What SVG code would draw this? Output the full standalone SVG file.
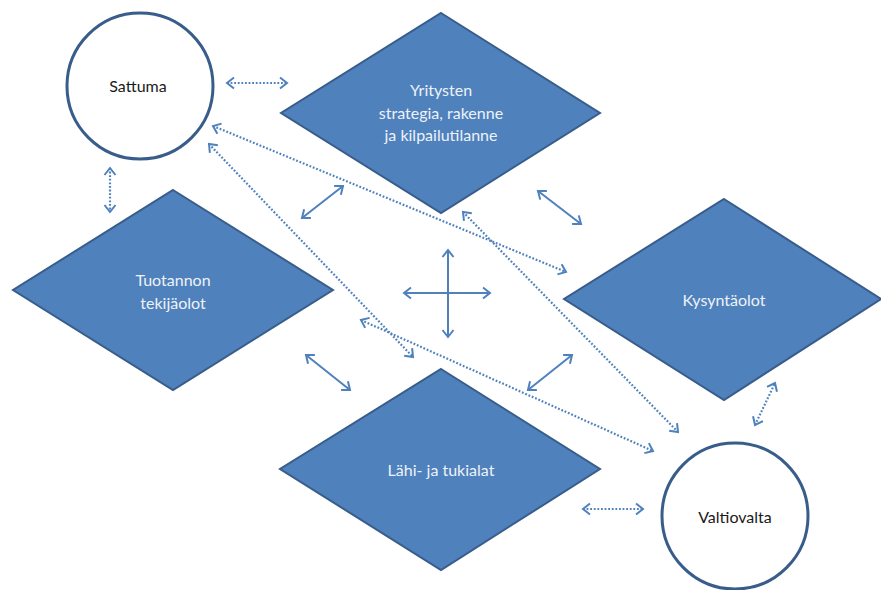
<svg xmlns="http://www.w3.org/2000/svg" width="881" height="590" viewBox="0 0 881 590">
<style>
.dia{fill:#4f81bd;stroke:#385d8a;stroke-width:2}
.circ{fill:#fff;stroke:#385d8a;stroke-width:3}
.lt{font-family:Lato,"Open Sans",sans-serif;font-size:16px;fill:#eef2f8;text-anchor:middle}
.dk{font-family:Lato,"Open Sans",sans-serif;font-size:16px;fill:#1a1a1a;text-anchor:middle}
.sol{stroke:#4f81bd;stroke-width:2;fill:none;marker-start:url(#ah);marker-end:url(#ah)}
.dot{stroke:#4f81bd;stroke-width:2.2;fill:none;stroke-dasharray:1.8 1.8;marker-start:url(#ah);marker-end:url(#ah)}
.head{stroke:#4f81bd;stroke-width:2;fill:none;stroke-dasharray:none}
</style>
<defs>
<marker id="ah" viewBox="-10 -7 12 14" markerWidth="12" markerHeight="14" refX="0" refY="0" orient="auto-start-reverse" markerUnits="userSpaceOnUse">
<path class="head" d="M-7,-5.5 L0,0 L-7,5.5"/>
</marker>
</defs>
<g id="connectors">
<line class="sol" x1="302" y1="218" x2="343" y2="186"/>
<line class="sol" x1="538" y1="191" x2="581" y2="224"/>
<line class="sol" x1="404" y1="293" x2="490" y2="293"/>
<line class="sol" x1="448" y1="250" x2="448" y2="337"/>
<line class="sol" x1="306" y1="355" x2="350" y2="390"/>
<line class="sol" x1="528" y1="390" x2="572" y2="355"/>
<line class="dot" x1="227" y1="83" x2="287" y2="83"/>
<line class="dot" x1="110" y1="168" x2="110" y2="212"/>
<line class="dot" x1="583" y1="509" x2="643" y2="509"/>
<line class="dot" x1="755" y1="425" x2="775" y2="383"/>
<line class="dot" x1="213" y1="126" x2="566" y2="272"/>
<line class="dot" x1="209" y1="144" x2="413" y2="357"/>
<line class="dot" x1="463" y1="212" x2="678" y2="432"/>
<line class="dot" x1="361" y1="320" x2="653" y2="451"/>
</g>
<g id="sattuma">
<circle class="circ" cx="140" cy="86" r="73"/>
<text class="dk" x="138" y="92">Sattuma</text>
</g>
<g id="yritysten">
<polygon class="dia" points="441,13 600,113 441,213 281,113"/>
<text class="lt" x="441" y="96">Yritysten</text>
<text class="lt" x="441" y="119">strategia, rakenne</text>
<text class="lt" x="441" y="141">ja kilpailutilanne</text>
</g>
<g id="tuotannon">
<polygon class="dia" points="173,190 333,290 173,390 13,290"/>
<text class="lt" x="173" y="286">Tuotannon</text>
<text class="lt" x="173" y="309">tekijäolot</text>
</g>
<g id="kysynta">
<polygon class="dia" points="724,199 881,299 724,400 564,299"/>
<text class="lt" x="724" y="306">Kysyntäolot</text>
</g>
<g id="lahi">
<polygon class="dia" points="441,369 600,469 441,570 280,469"/>
<text class="lt" x="441" y="476">Lähi- ja tukialat</text>
</g>
<g id="valtiovalta">
<circle class="circ" cx="735" cy="516" r="73"/>
<text class="dk" x="735" y="523">Valtiovalta</text>
</g>
</svg>
